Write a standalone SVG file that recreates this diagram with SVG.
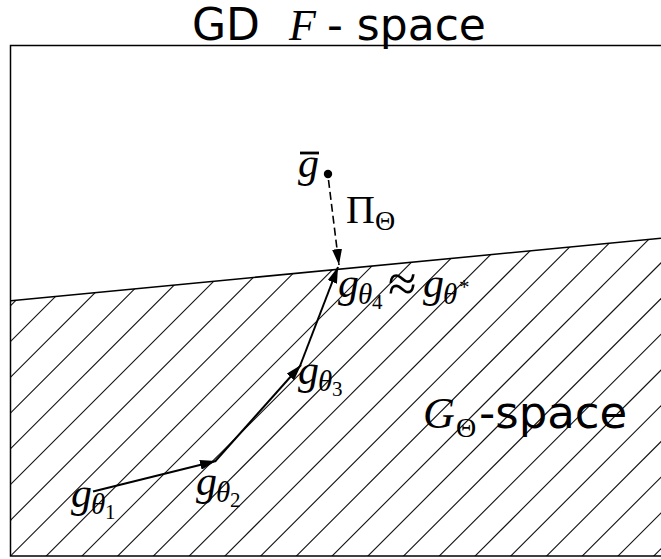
<svg xmlns="http://www.w3.org/2000/svg" width="661" height="559" viewBox="0 0 661 559">
<defs>
<style>
.frame{fill:none;stroke:#000;stroke-width:1.5}
.bound{fill:none;stroke:#000;stroke-width:1.5}
.hatch line{stroke:#111;stroke-width:1.1}
.arr{fill:none;stroke:#000;stroke-width:2}
.dash{fill:none;stroke:#000;stroke-width:1.6;stroke-dasharray:8 4}
.sans{font-family:"DejaVu Sans",sans-serif;fill:#000}
.m{font-family:"Liberation Serif","DejaVu Serif",serif;fill:#000}
.i{font-style:italic}
</style>
<marker id="ah" viewBox="0 0 16 10" refX="16" refY="5" markerWidth="16" markerHeight="10" markerUnits="userSpaceOnUse" orient="auto">
<path d="M0,0 L16,5 L0,10 Z" fill="#000"/>
</marker>
<clipPath id="hclip"><polygon points="11,300.7 661,238.3 661,556 11,556"/></clipPath>
</defs>
<rect width="661" height="559" fill="#fff"/>
<g id="title">
<text class="sans" x="192" y="40" font-size="44">GD</text>
<text class="m i" x="289" y="40" font-size="44">F</text>
<text class="sans" x="327" y="40" font-size="44">- space</text>
</g>
<g id="gtheta-space">
<g class="hatch" clip-path="url(#hclip)">
<line x1="-283.7" y1="600" x2="316.3" y2="0"/>
<line x1="-248" y1="600" x2="352" y2="0"/>
<line x1="-212.2" y1="600" x2="387.8" y2="0"/>
<line x1="-176.5" y1="600" x2="423.5" y2="0"/>
<line x1="-140.7" y1="600" x2="459.3" y2="0"/>
<line x1="-105" y1="600" x2="495" y2="0"/>
<line x1="-69.3" y1="600" x2="530.7" y2="0"/>
<line x1="-33.5" y1="600" x2="566.5" y2="0"/>
<line x1="2.2" y1="600" x2="602.2" y2="0"/>
<line x1="38" y1="600" x2="638" y2="0"/>
<line x1="73.7" y1="600" x2="673.7" y2="0"/>
<line x1="109.4" y1="600" x2="709.4" y2="0"/>
<line x1="145.2" y1="600" x2="745.2" y2="0"/>
<line x1="180.9" y1="600" x2="780.9" y2="0"/>
<line x1="216.7" y1="600" x2="816.7" y2="0"/>
<line x1="252.4" y1="600" x2="852.4" y2="0"/>
<line x1="288.1" y1="600" x2="888.1" y2="0"/>
<line x1="323.9" y1="600" x2="923.9" y2="0"/>
<line x1="359.6" y1="600" x2="959.6" y2="0"/>
<line x1="395.3" y1="600" x2="995.3" y2="0"/>
<line x1="431.1" y1="600" x2="1031.1" y2="0"/>
<line x1="466.8" y1="600" x2="1066.8" y2="0"/>
<line x1="502.6" y1="600" x2="1102.6" y2="0"/>
<line x1="538.3" y1="600" x2="1138.3" y2="0"/>
<line x1="574" y1="600" x2="1174" y2="0"/>
<line x1="609.8" y1="600" x2="1209.8" y2="0"/>
</g>
<line class="bound" x1="11" y1="300.7" x2="661" y2="238.3"/>
</g>
<rect class="frame" x="10.5" y="45.5" width="700" height="510.5"/>
<g id="connectors">
<line class="dash" x1="328.5" y1="180" x2="339" y2="265" marker-end="url(#ah)"/>
<line class="arr" x1="93" y1="491.5" x2="216" y2="461" marker-end="url(#ah)"/>
<line class="arr" x1="215" y1="461.5" x2="301" y2="365" marker-end="url(#ah)"/>
<line class="arr" x1="300" y1="366" x2="338" y2="267" marker-end="url(#ah)"/>
</g>
<g id="gbar">
<circle cx="328" cy="174" r="4.2" fill="#000"/>
<text class="m i" x="298" y="177" font-size="42">g</text>
<line x1="300" y1="153" x2="319" y2="153" stroke="#000" stroke-width="2.8"/>
</g>
<g id="proj-label">
<text class="m" x="346" y="223" font-size="40">Π</text>
<text class="m" x="375" y="230" font-size="28">Θ</text>
</g>
<g id="g-theta4">
<text class="m i" x="338" y="297" font-size="42">g</text>
<text class="m i" x="358" y="304" font-size="29">θ</text>
<text class="m" x="372" y="309" font-size="21">4</text>
<text class="m" x="388" y="301" font-size="52">≈</text>
<text class="m i" x="423" y="297" font-size="42">g</text>
<text class="m i" x="443" y="304" font-size="29">θ</text>
<text class="m" x="459" y="294" font-size="21">*</text>
</g>
<g id="g-theta3">
<text class="m i" x="298" y="384" font-size="42">g</text>
<text class="m i" x="318" y="391" font-size="29">θ</text>
<text class="m" x="332" y="396" font-size="21">3</text>
</g>
<g id="g-theta2">
<text class="m i" x="196" y="495" font-size="42">g</text>
<text class="m i" x="216" y="502" font-size="29">θ</text>
<text class="m" x="230" y="507" font-size="21">2</text>
</g>
<g id="g-theta1">
<text class="m i" x="71" y="507" font-size="42">g</text>
<text class="m i" x="91" y="514" font-size="29">θ</text>
<text class="m" x="105" y="519" font-size="21">1</text>
</g>
<g id="gspace-label">
<text class="m i" x="423" y="428" font-size="44">G</text>
<text class="m" x="456" y="437" font-size="28">Θ</text>
<text class="sans" x="479" y="428" font-size="45">-space</text>
</g>
</svg>
